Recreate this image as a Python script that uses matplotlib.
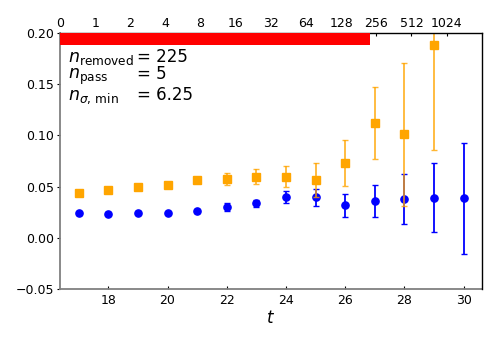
import numpy as np
import matplotlib
matplotlib.use("Agg")
import matplotlib.pyplot as plt

# ====================== data ======================
t_blue = [17, 18, 19, 20, 21, 22, 23, 24, 25, 26, 27, 28, 29, 30]
y_blue = [0.0240, 0.0237, 0.0247, 0.0243, 0.0263, 0.0299, 0.0338, 0.0402,
          0.0396, 0.0318, 0.0360, 0.0377, 0.0393, 0.0387]
e_blue = [0.0012, 0.0012, 0.0013, 0.0014, 0.0018, 0.0040, 0.0036, 0.0060,
          0.0081, 0.0112, 0.0153, 0.0244, 0.0335, 0.0540]

t_orange = [17, 18, 19, 20, 21, 22, 23, 24, 25, 26, 27, 28, 29]
y_orange = [0.0441, 0.0467, 0.0494, 0.0519, 0.0562, 0.0572, 0.0597, 0.0597,
            0.0562, 0.0733, 0.1123, 0.1010, 0.1877]
e_orange = [0.0013, 0.0014, 0.0016, 0.0018, 0.0025, 0.0058, 0.0072, 0.0104,
            0.0164, 0.0226, 0.0351, 0.0699, 0.1023]

top_ticks = [0, 1, 2, 4, 8, 16, 32, 64, 128, 256, 512, 1024]

n_removed = 225
n_pass = 5
n_sigma_min = 6.25

# ====================== figure ======================
fig = plt.figure(figsize=(4.98, 3.4), dpi=100)
ax = fig.add_axes([0.1205, 0.149, 0.8468, 0.755])

# blue points
l, caps, bars = ax.errorbar(t_blue, y_blue, yerr=e_blue, fmt='o', color='blue',
                            ms=5.2, capsize=2.5, elinewidth=1.3, capthick=1, zorder=3)

# orange points
l, caps, bars = ax.errorbar(t_orange, y_orange, yerr=e_orange, fmt='s', color='orange',
                            ms=5.2, capsize=2.5, elinewidth=1.3, capthick=1, zorder=4)
for b in bars:
    b.set_alpha(0.8)
for c in caps:
    c.set_alpha(0.8)

ax.set_xlim(16.37, 30.61)
ax.set_ylim(-0.05, 0.20)
ax.set_xticks([18, 20, 22, 24, 26, 28, 30])
ax.set_yticks([-0.05, 0.00, 0.05, 0.10, 0.15, 0.20])
ax.set_xlabel("$t$", fontsize=12, labelpad=2)

for s in ['left', 'bottom']:
    ax.spines[s].set_color('gray')
    ax.spines[s].set_linewidth(1.3)
ax.spines['top'].set_visible(False)
ax.spines['right'].set_visible(False)
ax.tick_params(axis='y', direction='out', length=2.5, labelsize=9, pad=1.5)
ax.tick_params(axis='x', direction='in', length=2.5, labelsize=9, pad=3)

# top axis: 0, 1, 2, 4, ... 1024
ax2 = ax.twiny()
ax2.set_xlim(0, 12)
ax2.set_xticks(range(len(top_ticks)))
ax2.set_xticklabels([str(v) for v in top_ticks])
ax2.tick_params(axis='x', direction='in', length=2.5, labelsize=9, pad=2)
ax2.spines['left'].set_visible(False)
ax2.spines['bottom'].set_visible(False)
ax2.spines['top'].set_linewidth(1.0)
ax2.spines['right'].set_linewidth(1.0)

# red bar = log2(n_removed) on top scale
bar_end = 1 + np.log2(n_removed)
ax2.barh(0.194, bar_end, height=0.012, left=0, color='red', zorder=5)

# text
labels = [r"$n_{\rm removed}$", r"$n_{\rm pass}$", r"$n_{\sigma,\,\rm min}$"]
values = [f"= {n_removed}", f"= {n_pass}", f"= {n_sigma_min}"]
ys = [0.1718, 0.1552, 0.1348]
for lab, val, yy in zip(labels, values, ys):
    ax.text(0.019, yy, lab, transform=ax.get_yaxis_transform(), fontsize=12.5,
            va='baseline', ha='left')
    ax.text(0.183, yy, val, transform=ax.get_yaxis_transform(),
            fontsize=12, va='baseline', ha='left')

plt.savefig("out.png", dpi=100)
plt.close()
